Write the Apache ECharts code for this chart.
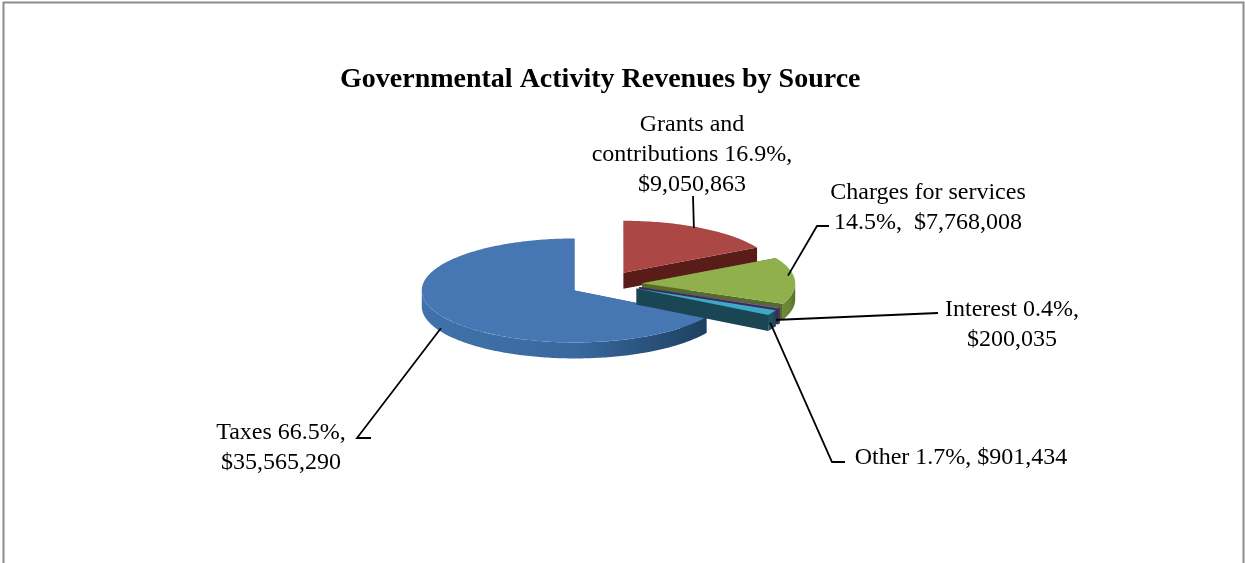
<!DOCTYPE html>
<html>
<head>
<meta charset="utf-8">
<title>Governmental Activity Revenues by Source</title>
<style>
  html, body { margin: 0; padding: 0; background: #fff; }
  #chart { width: 1245px; height: 563px; }
</style>
<script src="https://cdn.jsdelivr.net/npm/echarts@6/dist/echarts.min.js"></script>
</head>
<body>
<div id="chart"></div>
<script>
// --- data ---
const sources = ['Taxes', 'Grants and contributions', 'Charges for services', 'Interest', 'Other'];
const amounts = [35565290, 9050863, 7768008, 200035, 901434];
const labelTexts = [
  'Taxes 66.5%,\n$35,565,290',
  'Grants and\ncontributions 16.9%,\n$9,050,863',
  'Charges for services\n14.5%,  $7,768,008',
  'Interest 0.4%,\n$200,035',
  'Other 1.7%, $901,434'
];

// --- look ---
const topColors = ['#4677b2', '#ab4744', '#8fb04c', '#7a5ea0', '#3fa8c4'];
const sideColors = ['#2c5a8c', '#5a1c18', '#566d2a', '#3d2b57', '#1a4552'];
const rimColors = [
  ['#4172ab', '#38689e', '#1d4060'],
  ['#6e201c', '#6e201c', '#5a1c18'],
  ['#6f8a36', '#6a8433', '#55702a'],
  ['#4a3569', '#4a3569', '#3d2b57'],
  ['#1f5160', '#1f5160', '#1a4552']
];

// --- pie geometry (angles clockwise from 12 o'clock) ---
const pieCenter = [604, 284];
const radiusX = 153;
const radiusY = 52;
const depth = 16;
const firstAngle = 120.6;
const explodeX = [0.22, 0.25, 0.25, 0.25, 0.24];
const explodeY = [0.25, 0.25, 0.25, 0.14, 0.19];

// where each leader leaves its slice, relative to the rim at mid angle
const leaderNudge = [[-1, 12], [-7, 0], [-7, -5], [-5, 12], [-2, 10]];
// label centre and the leader's elbow points on the label side
const labelCenters = [[281, 448], [692, 155], [928, 208], [1012, 325], [961, 458]];
const leaderElbows = [
  [[371, 438], [357, 438]],
  [[693, 196]],
  [[829, 226], [817, 226]],
  [[938, 313]],
  [[845, 462], [832, 462]]
];

const FONT = '"Liberation Serif", "Times New Roman", serif';
const total = amounts.reduce((a, b) => a + b, 0);

const rimPoint = (c, deg) => {
  const r = deg * Math.PI / 180;
  return [c[0] + radiusX * Math.sin(r), c[1] - radiusY * Math.cos(r)];
};

const arcPoints = (c, from, to) => {
  const n = Math.max(2, Math.ceil(to - from));
  const pts = [];
  for (let i = 0; i <= n; i++) {
    pts.push(rimPoint(c, from + (to - from) * i / n));
  }
  return pts;
};

const shifted = (pts, dy) => pts.map(p => [p[0], p[1] + dy]);

const renderSlice = (params, api) => {
  const i = params.dataIndex;
  let start = firstAngle;
  for (let k = 0; k < i; k++) start += amounts[k] / total * 360;
  const end = start + api.value(0) / total * 360;
  const mid = (start + end) / 2;
  const rad = mid * Math.PI / 180;
  // move the slice out along its own middle direction
  const c = [
    pieCenter[0] + explodeX[i] * radiusX * Math.sin(rad),
    pieCenter[1] - explodeY[i] * radiusY * Math.cos(rad)
  ];

  const children = [];
  const poly = (points, fill) => children.push({ type: 'polygon', shape: { points }, style: { fill } });

  // side walls, then the front of the rim, then the top
  [start, end].forEach(a => {
    const p = rimPoint(c, a);
    poly([c, p, [p[0], p[1] + depth], [c[0], c[1] + depth]], sideColors[i]);
  });
  // rim is only seen between 3 and 9 o'clock
  const wrap = start > 360 ? 360 : 0;
  const rimFrom = Math.max(start - wrap, 90);
  const rimTo = Math.min(end - wrap, 270);
  if (rimTo > rimFrom) {
    const arc = arcPoints(c, rimFrom, rimTo);
    poly(arc.concat(shifted(arc, depth).reverse()), new echarts.graphic.LinearGradient(0, 0, 1, 0, [
      { offset: 0, color: rimColors[i][0] },
      { offset: 0.55, color: rimColors[i][1] },
      { offset: 1, color: rimColors[i][2] }
    ]));
  }
  poly([c].concat(arcPoints(c, start, end)), topColors[i]);

  // leader line
  const anchor = rimPoint(c, mid);
  const from = [anchor[0] + leaderNudge[i][0], anchor[1] + leaderNudge[i][1]];
  children.push({
    type: 'polyline',
    shape: { points: leaderElbows[i].concat([from]) },
    style: { stroke: '#000', lineWidth: 1.8, fill: null }
  });

  // label
  children.push({
    type: 'text',
    style: {
      text: labelTexts[i],
      x: labelCenters[i][0],
      y: labelCenters[i][1],
      align: 'center',
      verticalAlign: 'middle',
      lineHeight: 30,
      font: '24px ' + FONT,
      fill: '#000'
    }
  });

  return { type: 'group', children };
};

const chart = echarts.init(document.getElementById('chart'));
chart.setOption({
  animation: false,
  backgroundColor: '#fff',
  title: {
    text: 'Governmental Activity Revenues by Source',
    left: 335,
    top: 61,
    textStyle: { color: '#000', fontFamily: FONT, fontSize: 28, fontWeight: 'bold' }
  },
  graphic: [{
    type: 'rect',
    left: 1,
    top: 0,
    shape: { width: 1240, height: 620 },
    style: { fill: null, stroke: '#8c8c8c', lineWidth: 2 },
    silent: true
  }],
  series: [{
    type: 'custom',
    coordinateSystem: 'none',
    renderItem: renderSlice,
    data: sources.map((name, i) => ({ name, value: [amounts[i]] }))
  }]
});
</script>
</body>
</html>
